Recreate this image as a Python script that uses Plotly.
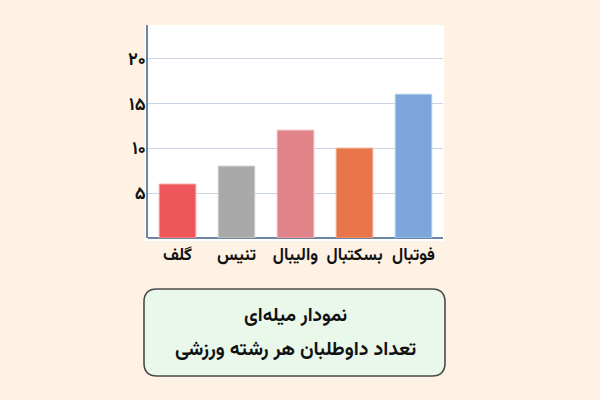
import plotly.graph_objects as go

categories = ["گلف", "تنیس", "والیبال", "بسکتبال", "فوتبال"]
values = [6, 8, 12, 10, 16]
bar_colors = ["#EE5759", "#A9A9A9", "#E0848A", "#E8764A", "#7CA6D9"]
edge_colors = ["#F8A0A0", "#CFCFCF", "#F0B2B6", "#F3A888", "#B0CCEE"]
y_tickvals = [5, 10, 15, 20]
y_ticktext = ["۵", "۱۰", "۱۵", "۲۰"]
title_lines = ["نمودار میله‌ای", "تعداد داوطلبان هر رشته ورزشی"]

W, H = 600, 400
L, R, T, B = 148, 443, 25, 238
FONT = "Vazirmatn, 'Noto Sans Arabic', 'Noto Naskh Arabic', 'DejaVu Sans', sans-serif"

def px(x):
    return (x - L) / (R - L)

def py(y):
    return (B - y) / (B - T)

fig = go.Figure(go.Bar(
    x=categories, y=values,
    marker=dict(color=bar_colors, line=dict(color=edge_colors, width=1)),
    width=0.62,
))

x0, x1, y0, y1, r = 144, 445, 289, 376, 13
path = (f"M {px(x0+r)},{py(y0)} L {px(x1-r)},{py(y0)} Q {px(x1)},{py(y0)} {px(x1)},{py(y0+r)} "
        f"L {px(x1)},{py(y1-r)} Q {px(x1)},{py(y1)} {px(x1-r)},{py(y1)} "
        f"L {px(x0+r)},{py(y1)} Q {px(x0)},{py(y1)} {px(x0)},{py(y1-r)} "
        f"L {px(x0)},{py(y0+r)} Q {px(x0)},{py(y0)} {px(x0+r)},{py(y0)} Z")

shapes = [
    dict(type="rect", xref="paper", yref="paper", layer="below",
         x0=px(145), x1=px(444), y0=py(241), y1=py(25),
         fillcolor="white", line=dict(width=0)),
    dict(type="path", xref="paper", yref="paper", path=path,
         fillcolor="#EAF8EC", line=dict(color="#4A4A4A", width=1.6)),
]

annotations = [
    dict(xref="paper", yref="paper", x=px(295), y=py(333), text="<b>" + title_lines[0] + "</b>",
         showarrow=False, font=dict(size=19, color="#111", family=FONT)),
    dict(xref="paper", yref="paper", x=px(295), y=py(367), text="<b>" + title_lines[1] + "</b>",
         showarrow=False, font=dict(size=19.5, color="#111", family=FONT)),
]

fig.update_layout(
    width=W, height=H,
    margin=dict(l=L, r=W - R, t=T, b=H - B, pad=0),
    paper_bgcolor="#FEF2E4", plot_bgcolor="white",
    showlegend=False,
    shapes=shapes, annotations=annotations,
    font=dict(family=FONT, color="#111"),
    xaxis=dict(showgrid=False, showline=False, ticks="", range=[-0.5, 4.5],
               tickvals=categories, ticktext=["<b>" + c + "</b>" for c in categories],
               tickfont=dict(size=17, color="#111"), ticklabelstandoff=4),
    yaxis=dict(range=[0, 23.7], tickvals=y_tickvals, ticktext=["<b>" + t + "</b>" for t in y_ticktext],
               showgrid=True, gridcolor="#C9D6E2", gridwidth=1,
               showline=True, linecolor="#6A86A4", linewidth=1.5,
               zeroline=True, zerolinecolor="#6A86A4", zerolinewidth=1.5,
               ticks="", tickfont=dict(size=18, color="#111"), ticklabelstandoff=-3),
)

fig.write_html("out.html", config={"displayModeBar": False},
               post_script="document.body.style.margin='0';document.body.style.background='#FEF2E4';")
